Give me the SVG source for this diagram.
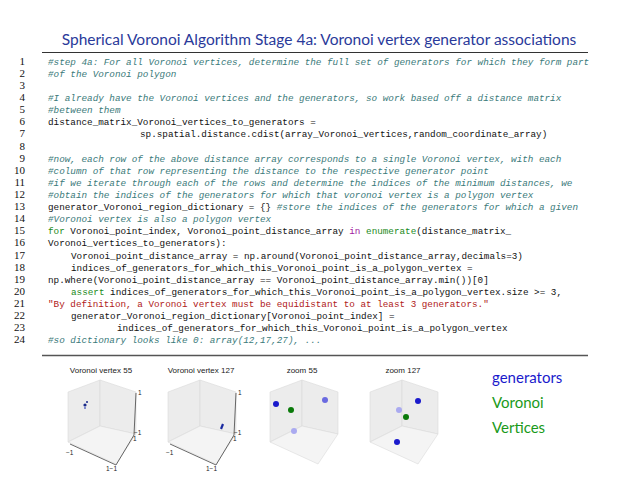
<svg xmlns="http://www.w3.org/2000/svg" width="638" height="479" viewBox="0 0 638 479">
<style>
.t{font-family:"Lato","Liberation Sans",sans-serif}
.c{font-family:"Liberation Mono",monospace;font-size:9.3px;fill:#111}
.cm{font-style:italic;fill:#3a7a7a}
.n{font-family:"Liberation Serif",serif;font-size:11px;fill:#111;text-anchor:end}
.k{fill:#1a8a1a}.p{fill:#a020a0}.s{fill:#b02020}
.pt{font-family:"Liberation Sans",sans-serif;font-size:8px;fill:#222;text-anchor:middle}
.tk{font-family:"Liberation Sans",sans-serif;font-size:6.5px;fill:#222}
.wall{fill:#ececec;stroke:#dadada;stroke-width:0.6}
.fl{fill:#f4f4f4;stroke:#dadada;stroke-width:0.6}
.ax{stroke:#444;stroke-width:0.8;fill:none}
</style>
<rect width="638" height="479" fill="#fff"/>
<text class="t" x="319" y="45" font-size="15.5" fill="#2a3a9a" text-anchor="middle">Spherical Voronoi Algorithm Stage 4a: Voronoi vertex generator associations</text>
<line x1="42" y1="52.5" x2="588" y2="52.5" stroke="#333" stroke-width="1"/>
<g id="code">
<g>
<text class="n" x="25" y="65">1</text><text class="n" x="25" y="77">2</text><text class="n" x="25" y="89">3</text><text class="n" x="25" y="101">4</text><text class="n" x="25" y="113">5</text><text class="n" x="25" y="125">6</text><text class="n" x="25" y="137">7</text><text class="n" x="25" y="150">8</text><text class="n" x="25" y="162">9</text><text class="n" x="25" y="174">10</text><text class="n" x="25" y="186">11</text><text class="n" x="25" y="198">12</text><text class="n" x="25" y="210">13</text><text class="n" x="25" y="222">14</text><text class="n" x="25" y="234">15</text><text class="n" x="25" y="246">16</text><text class="n" x="25" y="259">17</text><text class="n" x="25" y="271">18</text><text class="n" x="25" y="283">19</text><text class="n" x="25" y="295">20</text><text class="n" x="25" y="307">21</text><text class="n" x="25" y="319">22</text><text class="n" x="25" y="331">23</text><text class="n" x="25" y="343">24</text>
</g>
<text class="c cm" x="48" y="65">#step 4a: For all Voronoi vertices, determine the full set of generators for which they form part</text>
<text class="c cm" x="48" y="77">#of the Voronoi polygon</text>
<text class="c cm" x="48" y="101">#I already have the Voronoi vertices and the generators, so work based off a distance matrix</text>
<text class="c cm" x="48" y="113">#between them</text>
<text class="c" x="48" y="125">distance_matrix_Voronoi_vertices_to_generators =</text>
<text class="c" x="140" y="137">sp.spatial.distance.cdist(array_Voronoi_vertices,random_coordinate_array)</text>
<text class="c cm" x="48" y="162">#now, each row of the above distance array corresponds to a single Voronoi vertex, with each</text>
<text class="c cm" x="48" y="174">#column of that row representing the distance to the respective generator point</text>
<text class="c cm" x="48" y="186">#if we iterate through each of the rows and determine the indices of the minimum distances, we</text>
<text class="c cm" x="48" y="198">#obtain the indices of the generators for which that voronoi vertex is a polygon vertex</text>
<text class="c" x="48" y="210">generator_Voronoi_region_dictionary = {} <tspan class="cm">#store the indices of the generators for which a given</tspan></text>
<text class="c cm" x="48" y="222">#Voronoi vertex is also a polygon vertex</text>
<text class="c" x="48" y="234"><tspan class="k">for</tspan> Voronoi_point_index, Voronoi_point_distance_array <tspan class="p">in</tspan> <tspan class="k">enumerate</tspan>(distance_matrix_</text>
<text class="c" x="48" y="246">Voronoi_vertices_to_generators):</text>
<text class="c" x="71" y="259">Voronoi_point_distance_array = np.around(Voronoi_point_distance_array,decimals=3)</text>
<text class="c" x="71" y="271">indices_of_generators_for_which_this_Voronoi_point_is_a_polygon_vertex =</text>
<text class="c" x="48" y="283">np.where(Voronoi_point_distance_array == Voronoi_point_distance_array.min())[0]</text>
<text class="c" x="71" y="295"><tspan class="k">assert</tspan> indices_of_generators_for_which_this_Voronoi_point_is_a_polygon_vertex.size &gt;= 3,</text>
<text class="c s" x="48" y="307">"By definition, a Voronoi vertex must be equidistant to at least 3 generators."</text>
<text class="c" x="71" y="319">generator_Voronoi_region_dictionary[Voronoi_point_index] =</text>
<text class="c" x="117" y="331">indices_of_generators_for_which_this_Voronoi_point_is_a_polygon_vertex</text>
<text class="c cm" x="48" y="343">#so dictionary looks like 0: array(12,17,27), ...</text>
</g>
<line x1="42" y1="355.5" x2="588" y2="355.5" stroke="#555" stroke-width="1.5"/>
<defs>
<g id="cube">
<polygon class="wall" points="0,12 32,0 32,46 0,62"/>
<polygon class="wall" points="32,0 68,12 68,54 32,46" fill="#e6e6e6"/>
<polygon class="fl" points="0,62 32,46 68,54 48,84"/>
</g>
<g id="axes">
<polyline class="ax" points="2,64 48,85 66,55 68,13"/>
</g>
</defs>
<g id="plot1">
<text class="pt" x="101" y="373">Voronoi vertex 55</text>
<use href="#cube" x="68" y="380"/><use href="#axes" x="68" y="380"/>
<text class="tk" x="66" y="455">−1</text><text class="tk" x="106" y="471">1−1</text>
<text class="tk" x="138" y="395">1</text><text class="tk" x="134" y="435">−1</text><text class="tk" x="133" y="441">1</text>
<circle cx="85" cy="405" r="1.6" fill="#1a2a8a"/><circle cx="87" cy="402" r="1" fill="#1a2a8a"/><circle cx="85" cy="408" r="0.9" fill="#5060c0"/>
</g>
<g id="plot2">
<text class="pt" x="201" y="373">Voronoi vertex 127</text>
<use href="#cube" x="168" y="380"/><use href="#axes" x="168" y="380"/>
<text class="tk" x="166" y="455">−1</text><text class="tk" x="206" y="471">1−1</text>
<text class="tk" x="238" y="395">1</text><text class="tk" x="234" y="435">−1</text><text class="tk" x="233" y="441">1</text>
<line x1="221" y1="429" x2="223" y2="424" stroke="#1a2aa0" stroke-width="2.2"/>
</g>
<g id="plot3">
<text class="pt" x="302" y="373">zoom 55</text>
<use href="#cube" x="270" y="380"/>
<circle cx="276" cy="404" r="3" fill="#1a1acc"/>
<circle cx="291" cy="410" r="3" fill="#0a7a0a"/>
<circle cx="325" cy="400" r="3" fill="#6a6ae0"/>
<circle cx="294" cy="431" r="3" fill="#aaaaf0"/>
</g>
<g id="plot4">
<text class="pt" x="403" y="373">zoom 127</text>
<use href="#cube" x="370" y="380"/>
<circle cx="399" cy="410" r="3" fill="#aaaaf0"/>
<circle cx="418" cy="401" r="3" fill="#1a1acc"/>
<circle cx="406" cy="417" r="3" fill="#0a7a0a"/>
<circle cx="397" cy="442" r="3" fill="#1a1acc"/>
</g>
<g id="legend">
<text class="t" x="492" y="383" font-size="15" fill="#1a1acc">generators</text>
<text class="t" x="492" y="408" font-size="15" fill="#1a9a1a">Voronoi</text>
<text class="t" x="492" y="433" font-size="15" fill="#1a9a1a">Vertices</text>
</g>
</svg>
